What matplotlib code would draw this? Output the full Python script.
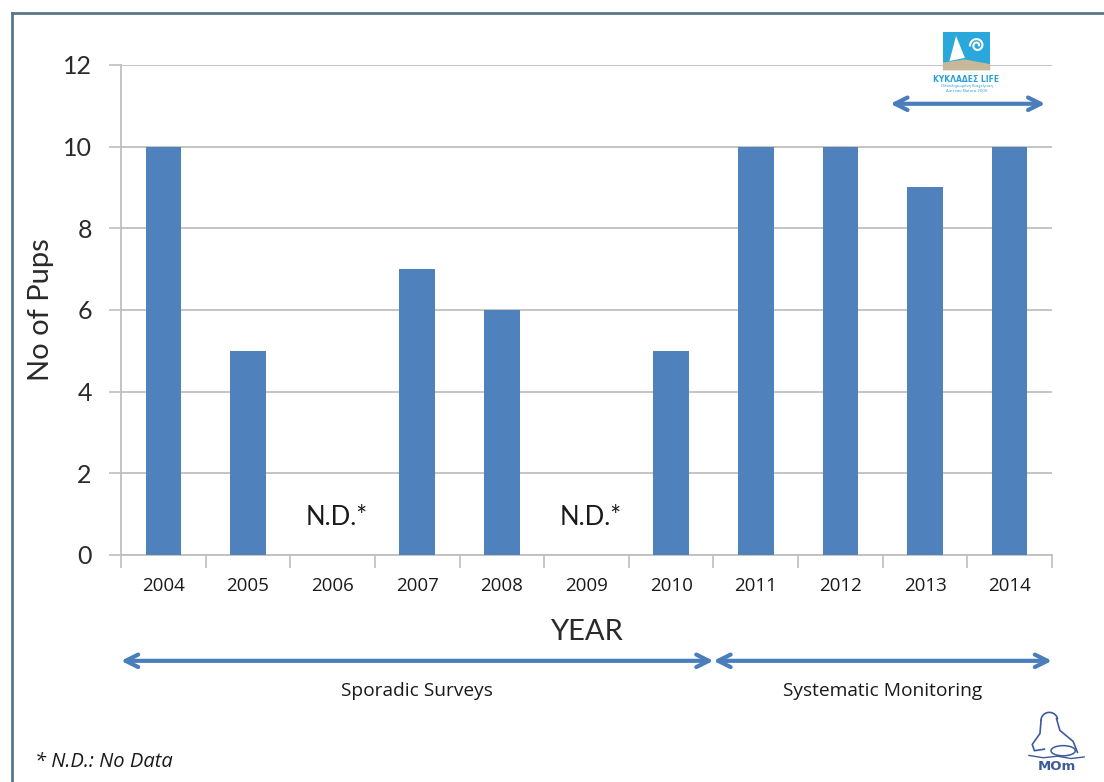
import numpy as np
import matplotlib.pyplot as plt
from matplotlib.lines import Line2D
from matplotlib.patches import Rectangle, Polygon, Ellipse

years = ["2004", "2005", "2006", "2007", "2008", "2009", "2010",
         "2011", "2012", "2013", "2014"]
pups = [10, 5, np.nan, 7, 6, np.nan, 5, 10, 10, 9, 10]
no_data = ["2006", "2009"]
periods = ["Sporadic Surveys", "Systematic Monitoring"]
period_span = [(-0.5, 6.5), (6.5, 10.5)]

blue = "#4F81BD"
arrow_blue = "#4A7EBB"
grid = "#BFBFBF"
ink = "#1A1A1A"
light_font = ["Lato", "DejaVu Sans"]

fig = plt.figure(figsize=(11.04, 7.82), dpi=100)
ax = fig.add_axes([0.1096, 0.2903, 0.8433, 0.6266])

x = np.arange(len(years))
ax.bar(x, np.nan_to_num(pups), width=0.42, color=blue, zorder=3)

ax.set_xlim(-0.5, len(years) - 0.5)
ax.set_ylim(0, 12)
ax.set_yticks(np.arange(0, 13, 2))
ax.set_yticklabels([str(v) for v in range(0, 13, 2)], fontsize=18,
                   family=light_font, color="#2A2A2A")
ax.yaxis.grid(True, color=grid, linewidth=1.3, zorder=0)
ax.tick_params(axis="y", length=9, width=1.2, color=grid, pad=12)

ax.set_xticks(np.arange(-0.5, len(years), 1))
ax.set_xticklabels([])
ax.tick_params(axis="x", length=9, width=1.2, color=grid)
for xi, yr in zip(x, years):
    ax.text(xi, -0.55, yr, ha="center", va="top", fontsize=13.5,
            family="Open Sans", color=ink)

for spine in ["top", "right"]:
    ax.spines[spine].set_visible(False)
for spine in ["left", "bottom"]:
    ax.spines[spine].set_color(grid)
    ax.spines[spine].set_linewidth(1.3)

for yr in no_data:
    ax.text(years.index(yr) + 0.05, 0.6, "N.D.*", ha="center", va="bottom",
            fontsize=18.5, family=light_font, color=ink)

ax.set_ylabel("No of Pups", fontsize=21, family=light_font, color="#2A2A2A",
              labelpad=6)
ax.text(0.5, -0.157, "YEAR", transform=ax.transAxes, ha="center", va="center",
        fontsize=21, family=light_font, color="#2A2A2A")

# period arrows under the axis
for (x0, x1), label in zip(period_span, periods):
    ax.annotate("", xy=(x1, -0.216), xytext=(x0, -0.216),
                xycoords=("data", "axes fraction"), textcoords=("data", "axes fraction"),
                arrowprops=dict(arrowstyle="<->,head_length=0.9,head_width=0.45",
                                color=arrow_blue, lw=3, shrinkA=0, shrinkB=0))
    ax.text((x0 + x1) / 2, -0.278, label, transform=ax.get_xaxis_transform(),
            ha="center", va="center", fontsize=13.8, family="Open Sans", color=ink)

# LIFE project arrow
ax.annotate("", xy=(10.42, 11.05), xytext=(8.59, 11.05),
            arrowprops=dict(arrowstyle="<->,head_length=0.9,head_width=0.45",
                            color=arrow_blue, lw=3, shrinkA=0, shrinkB=0))

# LIFE logo
lx, ly, lw_, lh = 0.854, 0.910, 0.043, 0.049
fig.patches.append(Rectangle((lx, ly), lw_, lh, transform=fig.transFigure,
                             facecolor="#2AA7DB", edgecolor="none"))
fig.patches.append(Polygon([(lx, ly), (lx + lw_, ly), (lx + lw_, ly + 0.008),
                            (lx + 0.02, ly + 0.014), (lx, ly + 0.01)],
                           closed=True, transform=fig.transFigure,
                           facecolor="#C8B89A", edgecolor="none"))
fig.patches.append(Polygon([(lx + 0.006, ly + 0.012), (lx + 0.012, ly + 0.044),
                            (lx + 0.02, ly + 0.016)], closed=True,
                           transform=fig.transFigure, facecolor="white", edgecolor="none"))
t = np.linspace(0, 3 * np.pi, 80)
r = 0.0025 + 0.0022 * t / np.pi
fig.add_artist(Line2D(lx + 0.031 + r * np.cos(t) * 0.7, ly + 0.032 + r * np.sin(t),
                      transform=fig.transFigure, color="white", lw=1.5))
fig.text(lx + lw_ / 2, ly - 0.006, "ΚΥΚΛΑΔΕΣ LIFE", ha="center", va="top",
         fontsize=5.5, fontweight="bold", color="#2A9FD6")
fig.text(lx + lw_ / 2, ly - 0.018, "Ολοκληρωμένη διαχείριση\nΔικτύου Natura 2000",
         ha="center", va="top", fontsize=2.8, color="#2A9FD6", linespacing=1.1)

# MOm logo (rough seal outline)
navy = "#3D5A99"
s = np.linspace(0.2, np.pi, 40)
fig.add_artist(Line2D(0.9505 + 0.0075 * np.cos(s), 0.079 + 0.010 * np.sin(s),
                      transform=fig.transFigure, color=navy, lw=1.2))
fig.add_artist(Line2D([0.943, 0.942, 0.935, 0.937, 0.946],
                      [0.079, 0.062, 0.048, 0.040, 0.042],
                      transform=fig.transFigure, color=navy, lw=1.2))
fig.add_artist(Line2D([0.957, 0.960, 0.972, 0.976],
                      [0.081, 0.066, 0.052, 0.038],
                      transform=fig.transFigure, color=navy, lw=1.2))
fig.patches.append(Ellipse((0.963, 0.040), 0.022, 0.013, transform=fig.transFigure,
                           facecolor="none", edgecolor=navy, lw=1.1))
fig.add_artist(Line2D([0.932, 0.945, 0.958, 0.970, 0.982],
                      [0.034, 0.031, 0.033, 0.030, 0.032],
                      transform=fig.transFigure, color=navy, lw=1.0))
fig.text(0.957, 0.012, "MOm", ha="center", va="bottom", fontsize=9.5,
         fontweight="bold", color=navy)

fig.text(0.032, 0.026, "* N.D.: No Data", ha="left", va="center", fontsize=14.5,
         style="italic", family="Open Sans", color=ink)

# slide frame
frame = "#56788A"
fig.add_artist(Line2D([0.011, 0.011], [0, 0.9834], transform=fig.transFigure,
                      color=frame, lw=2))
fig.add_artist(Line2D([0.011, 1.0], [0.9834, 0.9834], transform=fig.transFigure,
                      color=frame, lw=2))

fig.savefig("out.png", dpi=100, facecolor="white")
